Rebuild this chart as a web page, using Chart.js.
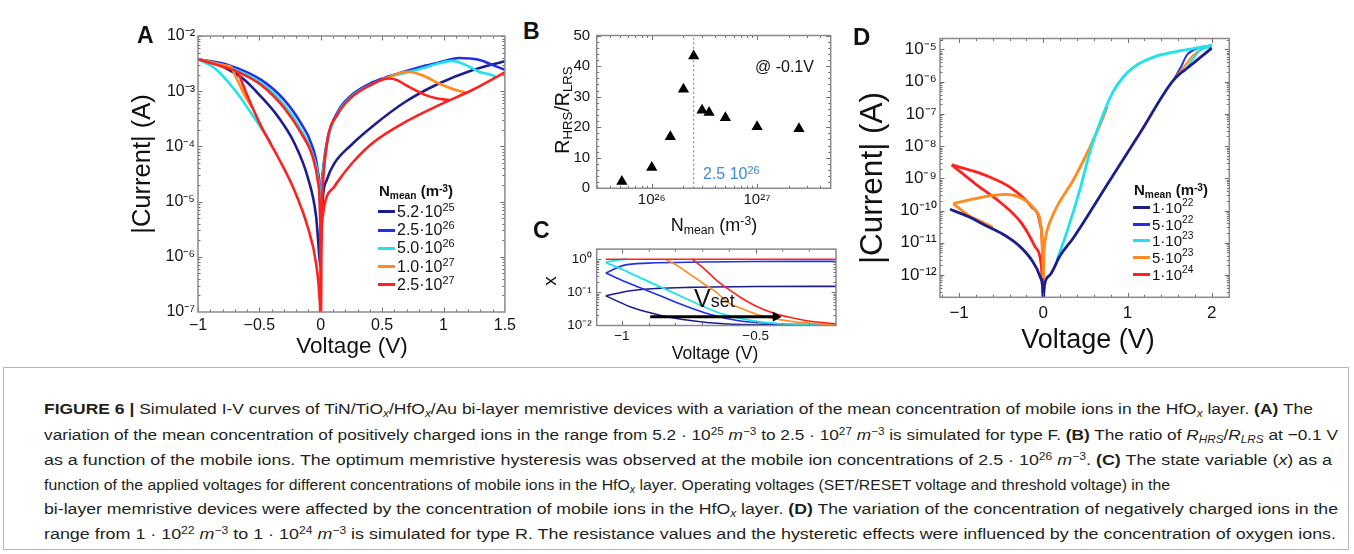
<!DOCTYPE html>
<html>
<head>
<meta charset="utf-8">
<script src="https://cdn.jsdelivr.net/npm/chart.js@4.4.1/dist/chart.umd.min.js"></script>
<style>
  body { margin: 0; width: 1354px; height: 554px; overflow: hidden; position: relative; background: #fff; font-family: "Liberation Sans", Arial, sans-serif; color: #111; }
  canvas { position: absolute; }
  .t { position: absolute; white-space: nowrap; line-height: 1; }
  .pl { font-weight: bold; font-size: 23px; }
  .rot { transform: translate(-50%, -50%) rotate(-90deg); }
  .ctr { transform: translateX(-50%); }
  .t sup, .cl sup { font-size: 0.68em; position: relative; top: -0.45em; vertical-align: baseline; line-height: 0; }
  .t sub, .cl sub { font-size: 0.68em; position: relative; top: 0.25em; vertical-align: baseline; line-height: 0; }
  .sw { display: inline-block; width: 17px; height: 3px; margin-right: 2px; }
  #capbox { position: absolute; left: 3px; top: 367px; width: 1346px; height: 183px; border: 1px solid #b5b5b5; box-sizing: border-box; }
  .cl { position: absolute; left: 44px; white-space: nowrap; font-size: 15.5px; line-height: 1; color: #231f20; transform-origin: 0 0; font-family: "Liberation Sans Narrow", "Liberation Sans", Arial, sans-serif; }
</style>
</head>
<body>
<canvas id="cA" width="410" height="345" style="left:110px;top:20px"></canvas>
<canvas id="cB" width="280" height="200" style="left:560px;top:20px"></canvas>
<canvas id="cC" width="285" height="110" style="left:560px;top:236px"></canvas>
<canvas id="cD" width="370" height="300" style="left:870px;top:25px"></canvas>

<div class="t pl" style="left:137px;top:24px">A</div>
<div class="t rot" style="left:142px;top:164px;font-size:25.5px">|Current| (A)</div>
<div class="t ctr" style="left:352px;top:334.5px;font-size:22.5px">Voltage (V)</div>

<div class="t pl" style="left:523px;top:20px">B</div>
<div class="t rot" style="left:563px;top:110px;font-size:19.5px">R<sub>HRS</sub>/R<sub>LRS</sub></div>
<div class="t ctr" style="left:714px;top:215.5px;font-size:18px">N<sub>mean</sub> (m<sup>-3</sup>)</div>
<div class="t" style="left:755px;top:59px;font-size:16px">@ -0.1V</div>
<div class="t" style="left:703px;top:166px;font-size:16px;color:#3b8ad8">2.5 10<sup>26</sup></div>

<div class="t pl" style="left:533px;top:218.5px">C</div>
<div class="t rot" style="left:549px;top:281px;font-size:19px">x</div>
<div class="t ctr" style="left:715px;top:345px;font-size:17.5px">Voltage (V)</div>
<div class="t" style="left:694px;top:286px;font-size:25px">V<span style="font-size:18px">set</span></div>

<div class="t pl" style="left:853px;top:24.5px;font-size:24px">D</div>
<div class="t rot" style="left:872px;top:178px;font-size:31.5px">|Current| (A)</div>
<div class="t ctr" style="left:1088px;top:325.5px;font-size:27px">Voltage (V)</div>

<div id="legA"></div>
<div id="legD"></div>

<div id="capbox"></div>
<div class="cl" data-w="1269" style="top:401.4px"><b>FIGURE 6 |</b> Simulated I-V curves of TiN/TiO<sub><i>x</i></sub>/HfO<sub><i>x</i></sub>/Au bi-layer memristive devices with a variation of the mean concentration of mobile ions in the HfO<sub><i>x</i></sub> layer. <b>(A)</b> The</div>
<div class="cl" data-w="1294" style="top:426.9px">variation of the mean concentration of positively charged ions in the range from 5.2 · 10<sup>25</sup> <i>m</i><sup>−3</sup> to 2.5 · 10<sup>27</sup> <i>m</i><sup>−3</sup> is simulated for type F. <b>(B)</b> The ratio of <i>R<sub>HRS</sub></i>/<i>R<sub>LRS</sub></i> at −0.1 V</div>
<div class="cl" data-w="1288" style="top:451.9px">as a function of the mobile ions. The optimum memristive hysteresis was observed at the mobile ion concentrations of 2.5 · 10<sup>26</sup> <i>m</i><sup>−3</sup>. <b>(C)</b> The state variable (<i>x</i>) as a</div>
<div class="cl" data-w="1126" style="top:476.9px">function of the applied voltages for different concentrations of mobile ions in the HfO<sub><i>x</i></sub> layer. Operating voltages (SET/RESET voltage and threshold voltage) in the</div>
<div class="cl" data-w="1294" style="top:500.9px">bi-layer memristive devices were affected by the concentration of mobile ions in the HfO<sub><i>x</i></sub> layer. <b>(D)</b> The variation of the concentration of negatively charged ions in the</div>
<div class="cl" data-w="1292" style="top:525.9px">range from 1 · 10<sup>22</sup> <i>m</i><sup>−3</sup> to 1 · 10<sup>24</sup> <i>m</i><sup>−3</sup> is simulated for type R. The resistance values and the hysteretic effects were influenced by the concentration of oxygen ions.</div>

<script>
const FONT = '"Liberation Sans", Arial, sans-serif';
const NAVY = '#1d1d8c', BLUE = '#2030ea', CYAN = '#1ee3ea', ORANGE = '#ff8a1e', RED = '#ff2020';

// panel A: |I| vs V, pairs [V, I]
const aVoltTicks = [-1, -0.5, 0, 0.5, 1, 1.5];
const aVoltLabels = ['−1', '−0.5', '0', '0.5', '1', '1.5'];
const aCurrentTicks = [1e-7, 1e-6, 1e-5, 1e-4, 1e-3, 1e-2];
const aLegendMant = ['5.2', '2.5', '5.0', '1.0', '2.5'];
const aLegendExp = [25, 26, 26, 27, 27];

const aNavyNeg = [[-1, 3.8e-3], [-0.864, 3.2e-3], [-0.756, 2.5e-3], [-0.62, 1.6e-3], [-0.485, 7.9e-4], [-0.35, 3.5e-4], [-0.215, 1.15e-4], [-0.107, 2.8e-5], [-0.038, 5.4e-6], [-0.011, 1.0e-6], [-0.003, 6.5e-7]];
const aNavyPos = [[0.002, 1.8e-6], [0.016, 1.07e-5], [0.05, 2.5e-5], [0.11, 4.9e-5], [0.246, 1.05e-4], [0.42, 2.3e-4], [0.693, 6.5e-4], [0.963, 1.38e-3], [1.234, 2.4e-3], [1.5, 3.5e-3]];
const aBlueNeg = [[-1, 3.8e-3], [-0.756, 3.0e-3], [-0.485, 1.6e-3], [-0.296, 6.9e-4], [-0.16, 2.6e-4], [-0.079, 1.15e-4], [-0.025, 3.7e-5], [-0.006, 1.0e-5], [-0.001, 1.6e-6]];
const aBluePos = [[0.001, 1.6e-6], [0.006, 1.26e-5], [0.02, 4.0e-5], [0.056, 1.4e-4], [0.137, 4.2e-4], [0.246, 8.3e-4], [0.422, 1.45e-3], [0.557, 1.86e-3], [0.706, 2.35e-3], [0.828, 2.8e-3], [0.963, 3.3e-3], [1.126, 4.0e-3], [1.288, 3.7e-3], [1.396, 3.0e-3], [1.5, 2.45e-3]];
const aCyanNegUp = [[-1, 3.8e-3], [-0.756, 2.75e-3], [-0.485, 1.4e-3], [-0.296, 5.6e-4], [-0.16, 2.0e-4], [-0.066, 7.1e-5], [-0.02, 2.5e-5], [-0.004, 7.9e-6], [0, 2.5e-6]];
const aCyanNegLow = [[-1, 3.8e-3], [-0.864, 2.6e-3], [-0.7, 1.05e-3], [-0.594, 4.9e-4], [-0.458, 1.74e-4], [-0.4, 1.12e-4]];
const aCyanPos = [[0, 2.5e-6], [0.006, 1.1e-5], [0.02, 3.5e-5], [0.056, 1.26e-4], [0.137, 3.9e-4], [0.246, 7.8e-4], [0.422, 1.35e-3], [0.557, 1.8e-3], [0.706, 2.2e-3], [0.828, 2.6e-3], [0.963, 3.2e-3], [1.07, 3.55e-3], [1.18, 3.0e-3], [1.288, 2.25e-3], [1.396, 1.95e-3], [1.43, 1.8e-3]];
const aOrangeNegTop = [[-1, 3.8e-3], [-0.86, 3.2e-3], [-0.73, 2.8e-3]];
const aOrangeNegDrop = [[-0.73, 2.8e-3], [-0.68, 1.6e-3], [-0.62, 8.5e-4], [-0.56, 5.0e-4]];
const aOrangePos = [[0.5, 1.66e-3], [0.557, 1.8e-3], [0.63, 2.1e-3], [0.706, 2.25e-3], [0.828, 1.95e-3], [0.963, 1.38e-3], [1.1, 1.05e-3], [1.18, 9.5e-4]];
const aRedNegUp = [[-1, 3.8e-3], [-0.85, 3.0e-3], [-0.675, 2.24e-3], [-0.485, 1.29e-3], [-0.296, 4.9e-4], [-0.16, 1.74e-4], [-0.066, 6.5e-5], [-0.02, 2.1e-5], [-0.006, 6.3e-6], [-0.001, 3.2e-7], [0, 1e-8]];
const aRedNegLow = [[-0.675, 2.24e-3], [-0.594, 7.9e-4], [-0.485, 2.3e-4], [-0.35, 6.5e-5], [-0.215, 1.6e-5], [-0.107, 3.5e-6], [-0.038, 7.6e-7], [-0.011, 1.9e-7], [-0.002, 5e-8], [0, 1e-8]];
const aRedPosUp = [[0, 1e-8], [0.002, 1e-6], [0.006, 5e-6], [0.016, 1.86e-5], [0.056, 1.32e-4], [0.137, 3.8e-4], [0.246, 7.6e-4], [0.422, 1.35e-3], [0.5, 1.62e-3], [0.557, 1.7e-3], [0.62, 1.6e-3], [0.693, 1.29e-3], [0.855, 8.5e-4], [0.95, 7.4e-4], [1.045, 6.9e-4]];
const aRedPosLow = [[0, 1e-8], [0.004, 1e-6], [0.016, 5.4e-6], [0.11, 1.86e-5], [0.15, 2.5e-5], [0.246, 4.7e-5], [0.422, 1.15e-4], [0.693, 2.8e-4], [0.963, 5.6e-4], [1.234, 1.05e-3], [1.5, 2.2e-3]];

// panel B: ratio vs N_mean
const bN = [5.2e25, 1e26, 1.5e26, 2e26, 2.5e26, 3e26, 3.5e26, 5e26, 1e27, 2.5e27];
const bRatio = [2.2, 6.8, 16.9, 32.4, 43.3, 25.5, 24.8, 23.1, 20.1, 19.5];
const bNTicks = [1e26, 1e27];
const bRatioTicks = [0, 10, 20, 30, 40, 50];
const bOptimum = [[2.5e26, 0], [2.5e26, 50]];

// panel C: state variable x vs V
const cVoltTicks = [-1, -0.5];
const cVoltLabels = ['−1', '−0.5'];
const cStateTicks = [0.01, 0.1, 1];
const cRedOn = [[-1.06, 1.0], [-0.2, 1.0]];
const cRedOff = [[-0.738, 1.0], [-0.694, 0.53], [-0.644, 0.22], [-0.606, 0.13], [-0.556, 0.069], [-0.494, 0.036], [-0.432, 0.023], [-0.369, 0.017], [-0.294, 0.013], [-0.2, 0.011]];
const cOrangeOff = [[-0.838, 1.0], [-0.794, 0.65], [-0.744, 0.34], [-0.694, 0.18], [-0.644, 0.095], [-0.606, 0.05], [-0.544, 0.03], [-0.494, 0.021], [-0.369, 0.013], [-0.244, 0.0107], [-0.2, 0.0103]];
const cCyanUp = [[-1.06, 0.8], [-1.01, 0.97], [-0.98, 1.0]];
const cCyanDown = [[-1.06, 0.8], [-0.969, 0.38], [-0.869, 0.16], [-0.769, 0.069], [-0.706, 0.04], [-0.619, 0.021], [-0.519, 0.0138], [-0.419, 0.011], [-0.2, 0.0102]];
const cBlueUp = [[-1.06, 0.38], [-0.994, 0.65], [-0.9, 0.76], [-0.7, 0.82], [-0.5, 0.85], [-0.2, 0.86]];
const cBlueDown = [[-1.06, 0.38], [-0.969, 0.18], [-0.869, 0.085], [-0.769, 0.04], [-0.669, 0.021], [-0.569, 0.0138], [-0.419, 0.011], [-0.2, 0.0102]];
const cNavyUp = [[-1.06, 0.077], [-0.969, 0.11], [-0.869, 0.13], [-0.744, 0.14], [-0.5, 0.148], [-0.2, 0.15]];
const cNavyDown = [[-1.06, 0.077], [-0.969, 0.036], [-0.869, 0.021], [-0.744, 0.0138], [-0.62, 0.011], [-0.45, 0.0102], [-0.2, 0.0101]];
const cArrow = [[-0.894, 0.018], [-0.425, 0.018]];

// panel D: |I| vs V, pairs [V, I]
const dVoltTicks = [-1, 0, 1, 2];
const dVoltLabels = ['−1', '0', '1', '2'];
const dCurrentTicks = [1e-12, 1e-11, 1e-10, 1e-9, 1e-8, 1e-7, 1e-6, 1e-5];
const dLegendMant = ['1', '5', '1', '5', '1'];
const dLegendExp = [22, 22, 23, 23, 24];

const dNavyNeg = [[-1.108, 1.1e-10], [-0.891, 6.5e-11], [-0.692, 3.5e-11], [-0.494, 1.95e-11], [-0.297, 8.5e-12], [-0.138, 2.9e-12], [-0.039, 8.9e-13], [-0.008, 4e-13], [0, 1.5e-13]];
const dNavyPos = [[0, 1.5e-13], [0.015, 5e-13], [0.08, 1e-12], [0.2, 4e-12], [0.356, 1.4e-11], [0.75, 5.9e-10], [1.15, 2.6e-8], [1.544, 1.1e-6], [1.75, 3.2e-6], [2.0, 1.1e-5]];
const dBlueTop = [[1.544, 1.1e-6], [1.643, 3.2e-6], [1.703, 6.6e-6], [1.781, 9.5e-6], [2.0, 1.35e-5]];
const dCyanPos = [[0.16, 2.8e-12], [0.25, 1.26e-11], [0.36, 1e-10], [0.45, 6.3e-10], [0.52, 3.2e-9], [0.6, 1.6e-8], [0.713, 1e-7], [0.83, 5e-7], [0.95, 1.4e-6], [1.07, 2.8e-6], [1.35, 6.3e-6], [1.67, 9.5e-6], [2.0, 1.35e-5]];
const dCyanTop = [[1.67, 2e-6], [1.781, 5.2e-6], [1.861, 9.5e-6], [2.0, 1.2e-5]];
const dOrangeNegUp = [[-1.069, 1.65e-10], [-0.891, 2.1e-10], [-0.692, 2.7e-10], [-0.455, 3.2e-10], [-0.257, 2.4e-10], [-0.099, 1.05e-10], [-0.027, 3.2e-11], [-0.012, 7.6e-12], [0, 8e-13]];
const dOrangeNegLow = [[-1.069, 1.65e-10], [-0.891, 7.2e-11], [-0.692, 4e-11], [-0.6, 3e-11]];
const dOrangePos = [[0, 8e-13], [0.01, 5e-12], [0.03, 1.6e-11], [0.06, 3.2e-11], [0.16, 1.3e-10], [0.356, 8.9e-10], [0.555, 9.5e-9], [0.713, 8.1e-8], [0.76, 1.7e-7]];
const dOrangeTop = [[1.56, 1.26e-6], [1.703, 3.7e-6], [1.781, 6.6e-6], [1.9, 1.07e-5], [2.0, 1.26e-5]];
const dRedNegUp = [[-1.088, 2.6e-9], [-0.9, 1.9e-9], [-0.692, 1.26e-9], [-0.375, 4.9e-10], [-0.138, 1.3e-10], [-0.039, 4e-11], [-0.012, 7.6e-12], [0, 2e-13]];
const dRedNegLow = [[-1.088, 2.6e-9], [-0.811, 6.9e-10], [-0.494, 1.66e-10], [-0.257, 4e-11], [-0.099, 7.6e-12], [-0.027, 2.3e-12], [0, 2e-13]];

const SUP = { '-': '⁻', '0': '⁰', '1': '¹', '2': '²', '3': '³', '4': '⁴', '5': '⁵', '6': '⁶', '7': '⁷', '8': '⁸', '9': '⁹' };

function pow10(v) {
  const e = String(Math.round(Math.log10(v)));
  return '10' + e.split('').map((c) => SUP[c]).join('');
}

function minorValues(scale, step) {
  const out = [];
  if (scale.type === 'logarithmic') {
    for (let e = Math.floor(Math.log10(scale.min)); e <= Math.ceil(Math.log10(scale.max)); e++) {
      for (let m = 1; m < 10; m++) {
        const v = m * Math.pow(10, e);
        if (v >= scale.min && v <= scale.max) out.push(v);
      }
    }
  } else if (step) {
    for (let v = Math.ceil(scale.min / step - 1e-9) * step; v <= scale.max + 1e-9; v += step) out.push(v);
  }
  return out;
}

// box with inward ticks on all four sides, like the original plots
const framePlugin = {
  id: 'frame',
  afterDraw(chart, args, o) {
    const { ctx, chartArea: a } = chart;
    ctx.save();
    ctx.strokeStyle = '#6f6f6f';
    ctx.lineWidth = 1;
    const marks = (scale, vals, len) => {
      ctx.beginPath();
      vals.forEach((v) => {
        const p = Math.round(scale.getPixelForValue(v)) + 0.5;
        if (scale.isHorizontal()) {
          if (p < a.left || p > a.right) return;
          ctx.moveTo(p, a.bottom); ctx.lineTo(p, a.bottom - len);
          ctx.moveTo(p, a.top); ctx.lineTo(p, a.top + len);
        } else {
          if (p < a.top || p > a.bottom) return;
          ctx.moveTo(a.left, p); ctx.lineTo(a.left + len, p);
          ctx.moveTo(a.right, p); ctx.lineTo(a.right - len, p);
        }
      });
      ctx.stroke();
    };
    const x = chart.scales.x, y = chart.scales.y;
    marks(x, minorValues(x, o.xStep), 2.5);
    marks(y, minorValues(y, o.yStep), 2.5);
    marks(x, x.ticks.map((t) => t.value), 4.5);
    marks(y, y.ticks.map((t) => t.value), 4.5);
    ctx.strokeStyle = '#8a8a8a';
    ctx.lineWidth = 1.5;
    ctx.strokeRect(a.left, a.top, a.width, a.height);
    ctx.restore();
  },
};

function axis(o) {
  return {
    type: o.type,
    min: o.min,
    max: o.max,
    bounds: 'data',
    grid: { display: false, drawTicks: false },
    border: { display: false },
    afterBuildTicks: (s) => { s.ticks = o.ticks.map((v) => ({ value: v })); },
    afterFit: (s) => { if (o.w) s.width = o.w; if (o.h) s.height = o.h; },
    ticks: {
      autoSkip: false, maxRotation: 0, minRotation: 0, padding: o.pad, color: '#151515',
      font: { family: FONT, size: o.fs },
      callback: (v, i) => (o.labels ? o.labels[i] : pow10(v)),
    },
  };
}

function line(data, color, width, order, extra) {
  return Object.assign({
    data: data.map(([x, y]) => ({ x, y })),
    showLine: true, borderColor: color, backgroundColor: color, borderWidth: width,
    pointRadius: 0, pointHoverRadius: 0, cubicInterpolationMode: 'monotone', order,
  }, extra || {});
}

function makeChart(id, pad, x, y, datasets, frame) {
  return new Chart(document.getElementById(id), {
    type: 'scatter',
    data: { datasets },
    options: {
      responsive: false, animation: false, events: [],
      layout: { padding: pad },
      scales: { x, y },
      plugins: { legend: { display: false }, tooltip: { enabled: false }, frame },
    },
    plugins: [framePlugin],
  });
}

// A
makeChart('cA', { left: 0, top: 16, right: 14, bottom: 0 },
  axis({ type: 'linear', min: -1, max: 1.5, ticks: aVoltTicks, labels: aVoltLabels, fs: 16, pad: 4, h: 53 }),
  axis({ type: 'logarithmic', min: 1e-7, max: 1e-2, ticks: aCurrentTicks, fs: 16, pad: 3, w: 88 }),
  [
    line(aRedNegUp, RED, 2.6, 1), line(aRedNegLow, RED, 2.6, 1), line(aRedPosUp, RED, 2.6, 1), line(aRedPosLow, RED, 2.6, 1),
    line(aOrangeNegTop, ORANGE, 2.6, 2), line(aOrangeNegDrop, ORANGE, 2.6, 2), line(aOrangePos, ORANGE, 2.6, 2),
    line(aCyanNegUp, CYAN, 2.6, 3), line(aCyanNegLow, CYAN, 2.6, 3), line(aCyanPos, CYAN, 2.6, 3),
    line(aBlueNeg, BLUE, 2.6, 4), line(aBluePos, BLUE, 2.6, 4),
    line(aNavyNeg, NAVY, 2.6, 5), line(aNavyPos, NAVY, 2.6, 5),
  ],
  { xStep: 0.1 });

// B
makeChart('cB', { left: 0, top: 14.7, right: 9.3, bottom: 0 },
  axis({ type: 'logarithmic', min: 3e25, max: 5e27, ticks: bNTicks, fs: 15, pad: 3, h: 31.7 }),
  axis({ type: 'linear', min: 0, max: 50, ticks: bRatioTicks, labels: bRatioTicks.map(String), fs: 15, pad: 6.5, w: 36.7 }),
  [
    line(bOptimum, '#4a8fdc', 1.1, 2, { borderDash: [2, 2.5], cubicInterpolationMode: 'default', tension: 0 }),
    {
      data: bN.map((n, i) => ({ x: n, y: bRatio[i] })),
      pointStyle: 'triangle', pointRadius: 6.5, pointBackgroundColor: '#000', pointBorderColor: '#000', pointBorderWidth: 0, order: 1,
    },
  ],
  { yStep: 2 });

// C
makeChart('cC', { left: 0, top: 6.3, right: 9, bottom: 0 },
  axis({ type: 'linear', min: -1.094, max: -0.2, ticks: cVoltTicks, labels: cVoltLabels, fs: 13.5, pad: 2.5, h: 20.5 }),
  axis({ type: 'logarithmic', min: 0.0097, max: 2.03, ticks: cStateTicks, fs: 13.5, pad: 5, w: 36.7 }),
  [
    line(cArrow, '#000', 3, 0, { cubicInterpolationMode: 'default', tension: 0, pointRadius: [0, 6], pointStyle: 'triangle', rotation: 90, pointBackgroundColor: '#000', pointBorderWidth: 0 }),
    line(cRedOn, RED, 1.6, 1), line(cRedOff, RED, 1.6, 1),
    line(cOrangeOff, ORANGE, 1.6, 2),
    line(cCyanUp, CYAN, 1.8, 3), line(cCyanDown, CYAN, 1.8, 3),
    line(cBlueUp, BLUE, 1.6, 4), line(cBlueDown, BLUE, 1.6, 4),
    line(cNavyUp, NAVY, 1.6, 5), line(cNavyDown, NAVY, 1.6, 5),
  ],
  { xStep: 0.1 });

// D
makeChart('cD', { left: 0, top: 13.3, right: 10.7, bottom: 0 },
  axis({ type: 'linear', min: -1.227, max: 2.209, ticks: dVoltTicks, labels: dVoltLabels, fs: 17, pad: 5.5, h: 27.7 }),
  axis({ type: 'logarithmic', min: 2.03e-13, max: 2.19e-5, ticks: dCurrentTicks, fs: 17, pad: 3.3, w: 70 }),
  [
    line(dNavyNeg, NAVY, 2.8, 1), line(dNavyPos, NAVY, 2.8, 1),
    line(dCyanPos, CYAN, 2.8, 2), line(dCyanTop, CYAN, 2, 2),
    line(dOrangeNegUp, ORANGE, 2.8, 3), line(dOrangeNegLow, ORANGE, 2.8, 3), line(dOrangePos, ORANGE, 2.8, 3), line(dOrangeTop, ORANGE, 2, 3),
    line(dRedNegUp, RED, 2.8, 4), line(dRedNegLow, RED, 2.8, 4),
    line(dBlueTop, BLUE, 2, 5),
  ],
  { xStep: 0.2 });

function legend(id, left, titleTop, firstCenter, step, fs, colors, mants, exps) {
  const el = document.getElementById(id);
  let html = `<div class="t" style="left:${left + 1}px;top:${titleTop}px;font-size:15px;font-weight:bold">N<sub>mean</sub> (m<sup>-3</sup>)</div>`;
  colors.forEach((c, i) => {
    const cy = firstCenter + i * step;
    html += `<div class="t" style="left:${left}px;top:${cy - fs / 2}px;height:${fs}px;display:flex;align-items:center;font-size:${fs}px">` +
      `<span class="sw" style="background:${c}"></span>${mants[i]}·10<sup>${exps[i]}</sup></div>`;
  });
  el.innerHTML = html;
}

legend('legA', 378, 183.3, 211.7, 18.3, 16, [NAVY, BLUE, CYAN, ORANGE, RED], aLegendMant, aLegendExp);
legend('legD', 1133, 182.3, 207.7, 16.6, 15, [NAVY, BLUE, CYAN, ORANGE, RED], dLegendMant, dLegendExp);

document.querySelectorAll('.cl').forEach((el) => {
  const w = el.getBoundingClientRect().width;
  el.style.transform = `scaleX(${(+el.dataset.w / w).toFixed(4)})`;
});
</script>
</body>
</html>
